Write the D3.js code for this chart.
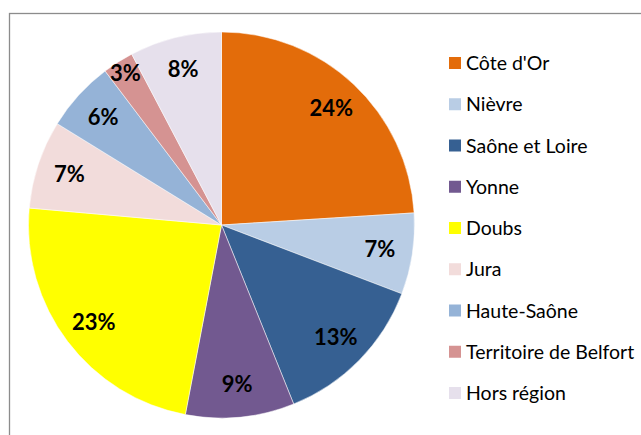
<!DOCTYPE html>
<html>
<head>
<meta charset="utf-8">
<script src="https://cdn.jsdelivr.net/npm/d3@7"></script>
<style>
  body { margin: 0; background: #fff; }
  svg { display: block; }
</style>
</head>
<body>
<div id="chart"></div>
<script>
// Chart data (shares in %; labels are rounded)
const departements = ["Côte d'Or", "Nièvre", "Saône et Loire", "Yonne", "Doubs", "Jura", "Haute-Saône", "Territoire de Belfort", "Hors région"];
const parts = [24.0, 6.8, 13.1, 9.1, 23.4, 7.4, 5.9, 2.6, 7.7];
const couleurs = ["#E36C0A", "#B9CDE5", "#366092", "#725990", "#FFFF00", "#F2DCDB", "#95B3D7", "#D59392", "#E6E0EC"];

const width = 641;
const height = 435;

const svg = d3.select("#chart")
    .append("svg")
    .attr("width", width)
    .attr("height", height);

// Chart frame (runs off the right and bottom edges)
svg.append("rect")
    .attr("x", 9.5)
    .attr("y", 13.5)
    .attr("width", 800)
    .attr("height", 600)
    .attr("fill", "none")
    .attr("stroke", "#8c8c8c")
    .attr("stroke-width", 1.3);

const data = departements.map((d, i) => ({name: d, value: parts[i], color: couleurs[i]}));
const total = d3.sum(parts);

const cx = 221.5, cy = 225, radius = 193;

const pie = d3.pie()
    .value(d => d.value)
    .sort(null);

const arc = d3.arc()
    .innerRadius(0)
    .outerRadius(radius);

const g = svg.append("g")
    .attr("transform", `translate(${cx},${cy})`);

const arcs = pie(data);

g.selectAll("path")
    .data(arcs)
    .enter()
    .append("path")
    .attr("d", arc)
    .attr("fill", d => d.data.color)
    .attr("stroke", "#ffffff")
    .attr("stroke-width", 0.5);

// Percentage labels
g.selectAll("text")
    .data(arcs)
    .enter()
    .append("text")
    .attr("transform", d => {
        const r = d.data.value < 5 ? radius * 0.93 : radius * 0.83;
        const a = (d.startAngle + d.endAngle) / 2;
        return `translate(${Math.sin(a) * r},${-Math.cos(a) * r})`;
    })
    .attr("text-anchor", "middle")
    .attr("dy", "0.36em")
    .attr("font-family", "Lato, 'Open Sans', sans-serif")
    .attr("font-weight", "bold")
    .attr("font-size", 22)
    .attr("fill", "#000")
    .text(d => Math.round(d.data.value / total * 100) + "%");

// Legend
const legend = svg.append("g")
    .attr("transform", "translate(449,63)");

const rows = legend.selectAll("g")
    .data(data)
    .enter()
    .append("g")
    .attr("transform", (d, i) => `translate(0,${i * 41.25})`);

rows.append("rect")
    .attr("x", 0)
    .attr("y", -6)
    .attr("width", 12)
    .attr("height", 12)
    .attr("fill", d => d.color);

rows.append("text")
    .attr("x", 17)
    .attr("dy", "0.36em")
    .attr("font-family", "Lato, 'Open Sans', sans-serif")
    .attr("font-size", 19.5)
    .attr("fill", "#000")
    .text(d => d.name);
</script>
</body>
</html>
